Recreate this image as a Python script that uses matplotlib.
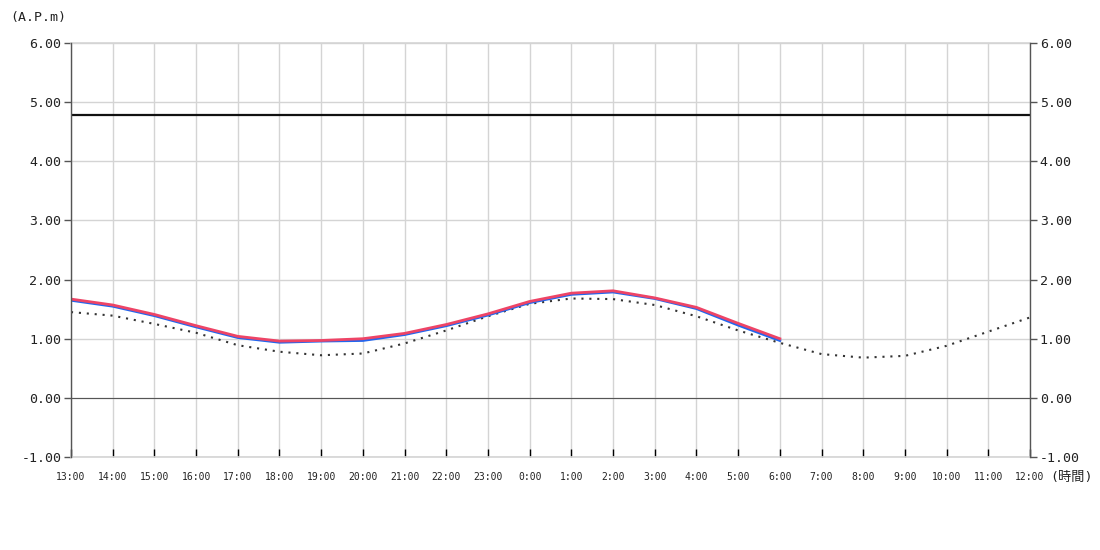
import matplotlib
matplotlib.use("Agg")
import matplotlib.pyplot as plt

hours = ["13:00","14:00","15:00","16:00","17:00","18:00","19:00","20:00","21:00","22:00","23:00",
         "0:00","1:00","2:00","3:00","4:00","5:00","6:00","7:00","8:00","9:00","10:00","11:00","12:00"]
observed_red = [1.67,1.57,1.41,1.22,1.04,0.96,0.97,1.00,1.09,1.24,1.42,1.63,1.77,1.81,1.69,1.53,1.26,1.00]
observed_blue = [1.65,1.55,1.39,1.20,1.02,0.94,0.96,0.97,1.07,1.22,1.40,1.61,1.75,1.79,1.68,1.51,1.23,0.97]
predicted = [1.45,1.39,1.25,1.10,0.89,0.78,0.72,0.75,0.92,1.14,1.38,1.59,1.68,1.67,1.57,1.38,1.14,0.93,
             0.74,0.68,0.71,0.88,1.12,1.36]
threshold = 4.78
yticks = [-1.0,0.0,1.0,2.0,3.0,4.0,5.0,6.0]

plt.rcParams['font.family'] = ['DejaVu Sans Mono', 'Noto Sans CJK JP']

fig = plt.figure(figsize=(11,5.5), dpi=100)
ax = fig.add_axes([71/1100, 1-457/550, (1030-71)/1100, (457-43)/550])

x = list(range(len(hours)))
ax.set_xlim(0, len(hours)-1)
ax.set_ylim(-1, 6)

ax.grid(True, color='#d4d4d4', linewidth=1)
ax.set_axisbelow(True)
ax.axhline(yticks[0], color='#d4d4d4', linewidth=1.2, zorder=1, clip_on=False)
ax.axhline(yticks[-1], color='#d4d4d4', linewidth=1.2, zorder=1, clip_on=False)
ax.axhline(0, color='#555555', linewidth=0.8, zorder=1)
ax.axhline(threshold, color='#111111', linewidth=1.6, zorder=3)

ax.plot(x[:len(predicted)], predicted, color='#333333', linewidth=1.5, linestyle=(0,(1,2.8)), zorder=2)
ax.plot(x[:len(observed_blue)], observed_blue, color='#2266ee', linewidth=2, zorder=4)
ax.plot(x[:len(observed_red)], observed_red, color='#ee4466', linewidth=2, zorder=5)

for s in ['top','bottom']:
    ax.spines[s].set_visible(False)
for s in ['left','right']:
    ax.spines[s].set_color('#555555')
    ax.spines[s].set_linewidth(1)
    ax.spines[s].set_zorder(6)

ax.set_xticks(x)
ax.set_xticklabels(hours, fontsize=7)
ax.tick_params(axis='x', direction='in', length=6, width=1, color='black', pad=11, labelcolor='#222222')
ax.set_yticks(yticks)
ax.set_yticklabels([f"{v:.2f}" for v in yticks])
ax.tick_params(axis='y', direction='out', length=5, width=1, color='#555555', labelsize=9.5,
               labelcolor='#222222', left=True, right=True, labelleft=True, labelright=True, pad=2)

fig.text(10/1100, 1-18/550, "(A.P.m)", fontsize=9.5, va='center', ha='left', color='#222222')
fig.text(1050/1100, 1-477/550, "(時間)", fontsize=9.5, va='center', ha='left', color='#222222')

fig.savefig("out.png", dpi=100)
